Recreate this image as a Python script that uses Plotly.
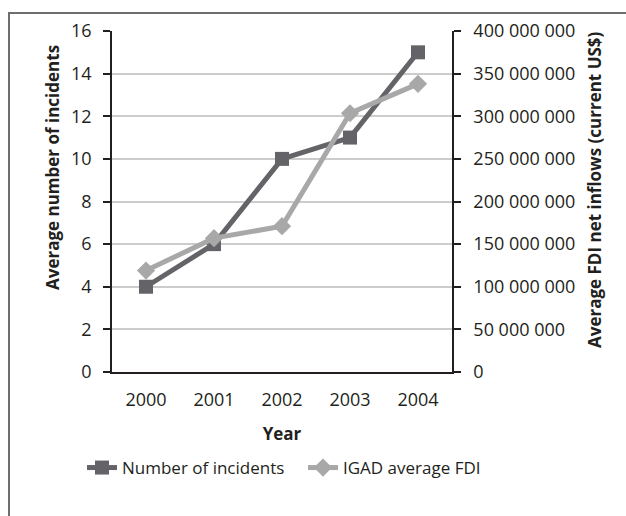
import plotly.graph_objects as go

years = ["2000", "2001", "2002", "2003", "2004"]
incidents = [4, 6, 10, 11, 15]
fdi = [119_000_000, 157_000_000, 171_000_000, 303_500_000, 338_000_000]

W, H = 626, 516
L, R, T, B = 112, 452, 31, 372  # plot area in pixels

FONT = "Open Sans"
TEXT = "#231f20"
DARK = "#646468"
LIGHT = "#a8a8a8"

fig = go.Figure()
fig.add_trace(go.Scatter(
    x=years, y=incidents, name="Number of incidents", mode="lines+markers",
    line=dict(color=DARK, width=5),
    marker=dict(symbol="square", size=14, color=DARK),
))
fig.add_trace(go.Scatter(
    x=years, y=fdi, name="IGAD average FDI", mode="lines+markers", yaxis="y2",
    line=dict(color=LIGHT, width=5),
    marker=dict(symbol="diamond", size=14, color=LIGHT),
))

def px_x(x):
    return (x - L) / (R - L)

def px_y(y):
    return (B - y) / (B - T)

axis_title_font = dict(family=FONT, size=17, color=TEXT)

fig.update_layout(
    width=W, height=H,
    margin=dict(l=L, r=W - R, t=T, b=H - B, autoexpand=False),
    paper_bgcolor="white", plot_bgcolor="white",
    font=dict(family=FONT, size=18, color=TEXT),
    separators=". ",
    showlegend=True,
    legend=dict(orientation="h", x=px_x(82), xanchor="left", y=px_y(468), yanchor="middle",
                font=dict(size=17), tracegroupgap=0, entrywidth=176),
    xaxis=dict(
        type="category", range=[-0.5, 4.5], showline=True, linecolor=TEXT, linewidth=1.5,
        ticks="", showgrid=False, ticklabelstandoff=11,
        title=dict(text="<b>Year</b>", font=axis_title_font, standoff=18),
    ),
    yaxis=dict(
        range=[0, 16], dtick=2, showline=True, linecolor=TEXT, linewidth=1.5,
        ticks="outside", ticklen=7, tickcolor=TEXT, tickwidth=1.5,
        gridcolor="#cccccc", gridwidth=1.5, zeroline=False, ticklabelstandoff=8,
    ),
    yaxis2=dict(
        range=[0, 400_000_000], dtick=50_000_000, overlaying="y", side="right",
        tickformat=",d", showline=True, linecolor=TEXT, linewidth=1.5,
        ticks="outside", ticklen=7, tickcolor=TEXT, tickwidth=1.5,
        showgrid=False, zeroline=False, ticklabelstandoff=9,
    ),
    annotations=[
        dict(text="<b>Average number of incidents</b>", textangle=-90,
             xref="paper", yref="paper", x=px_x(52), y=px_y(168),
             xanchor="center", yanchor="middle", showarrow=False, font=axis_title_font),
        dict(text="<b>Average FDI net inflows (current US$)</b>", textangle=-90,
             xref="paper", yref="paper", x=px_x(594), y=px_y(190),
             xanchor="center", yanchor="middle", showarrow=False, font=axis_title_font),
    ],
    shapes=[dict(
        type="rect", xref="paper", yref="paper",
        x0=px_x(9), y0=px_y(H + 10), x1=px_x(W + 10), y1=px_y(13),
        line=dict(color="#6e6e6e", width=2), fillcolor="rgba(0,0,0,0)", layer="below",
    )],
)

fig.write_html("out.html")
